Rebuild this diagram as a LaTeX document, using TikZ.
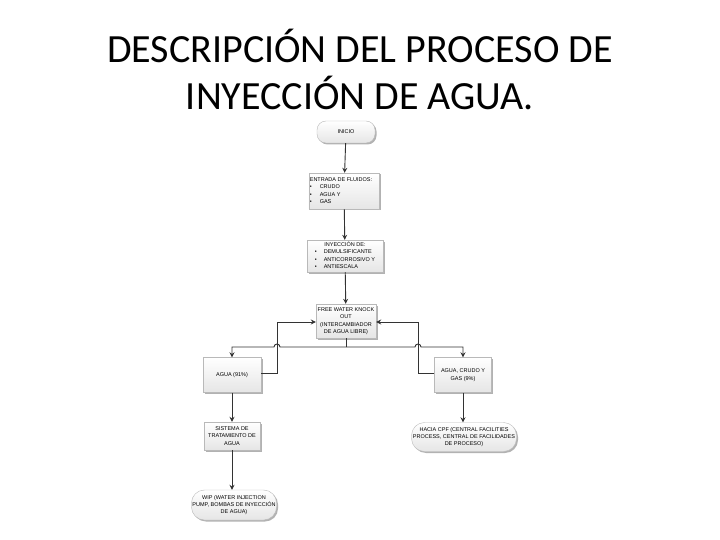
\documentclass[tikz,border=0pt]{standalone}
\usepackage{fontspec}
\setmainfont{Carlito}
\newfontfamily\boxfont{Liberation Sans}
\usetikzlibrary{arrows.meta,shadows,shapes.misc}
\begin{document}
\begin{tikzpicture}[x=1pt,y=-1pt,
  box/.style={draw=gray!55, line width=0.4pt, top color=white, bottom color=gray!20,
    drop shadow={shadow xshift=1.5pt, shadow yshift=-1.5pt, opacity=0.3, fill=black},
    inner sep=1pt, font=\boxfont\fontsize{5.5}{7.4}\selectfont, align=center},
  rbox/.style={box, rounded corners=9pt},
  conn/.style={draw=black!80, line width=0.9pt},
  arr/.style={conn, -{Stealth[length=5pt,width=5pt]}},
]
\useasboundingbox (0,0) rectangle (720,540);
\node[font=\fontsize{40}{48}\selectfont, anchor=base] (t1) at (360,63) {DESCRIPCIÓN DEL PROCESO DE};
\node[font=\fontsize{40}{48}\selectfont, anchor=base] (t2) at (360,110) {INYECCIÓN DE AGUA.};

\node[rbox, minimum width=58pt, minimum height=22pt] (ini) at (346,132) {INICIO};
\node[box, minimum width=62pt, minimum height=36pt, align=left] (ent) at (344,191)
  {\begin{tabular}{@{}l@{\hspace{8pt}}l@{}}\multicolumn{2}{@{}l}{ENTRADA DE FLUIDOS:}\\
   \textbullet & CRUDO\\ \textbullet & AGUA Y\\ \textbullet & GAS\end{tabular}};
\node[box, minimum width=76pt, minimum height=32pt] (iny) at (345,256)
  {\begin{tabular}{@{}l@{\hspace{7pt}}l@{}}\multicolumn{2}{c}{INYECCIÓN DE:}\\
   \textbullet & DEMULSIFICANTE\\ \textbullet & ANTICORROSIVO Y\\ \textbullet & ANTIESCALA\end{tabular}};
\node[box, minimum width=60pt, minimum height=34pt] (fw) at (346,321)
  {FREE WATER KNOCK\\OUT\\(INTERCAMBIADOR\\DE AGUA LIBRE)};
\node[box, minimum width=58pt, minimum height=35pt] (ag) at (232,375) {AGUA (91\%)};
\node[box, minimum width=57pt, minimum height=35pt] (ac) at (463,375) {AGUA, CRUDO Y\\GAS (9\%)};
\node[box, minimum width=56pt, minimum height=28pt] (st) at (232,436) {SISTEMA DE\\TRATAMIENTO DE\\AGUA};
\node[rbox, rounded corners=13pt, minimum width=105pt, minimum height=29pt] (cpf) at (464,437)
  {HACIA CPF (CENTRAL FACILITIES\\PROCESS, CENTRAL DE FACILIDADES\\DE PROCESO)};
\node[rbox, rounded corners=13pt, minimum width=83pt, minimum height=30pt] (wip) at (234,505)
  {WIP (WATER INJECTION\\PUMP, BOMBAS DE INYECCIÓN\\DE AGUA)};

\draw[arr] (ini) -- (ent);
\draw[arr] (ent) -- (iny);
\draw[arr] (iny) -- (fw);
\coordinate (j) at (346,347);
\draw[conn] (fw.south) -- (j);
\draw[arr] (j) -- (280,347) arc[start angle=0, end angle=180, radius=3pt] -- (232,347) -- (ag.north);
\draw[arr] (j) -- (415,347) arc[start angle=180, end angle=0, radius=3pt] -- (463,347) -- (ac.north);
\draw[arr] (ag.east |- 0,373) -- (277,373) -- (277,322) -- (fw.west |- 0,322);
\draw[arr] (ac.west |- 0,373) -- (418,373) -- (418,322) -- (fw.east |- 0,322);
\draw[arr] (ag) -- (st);
\draw[arr] (ac.south) -- (cpf.north -| ac.south);
\draw[arr] (st.south) -- (st.south |- wip.north);
\end{tikzpicture}
\end{document}
